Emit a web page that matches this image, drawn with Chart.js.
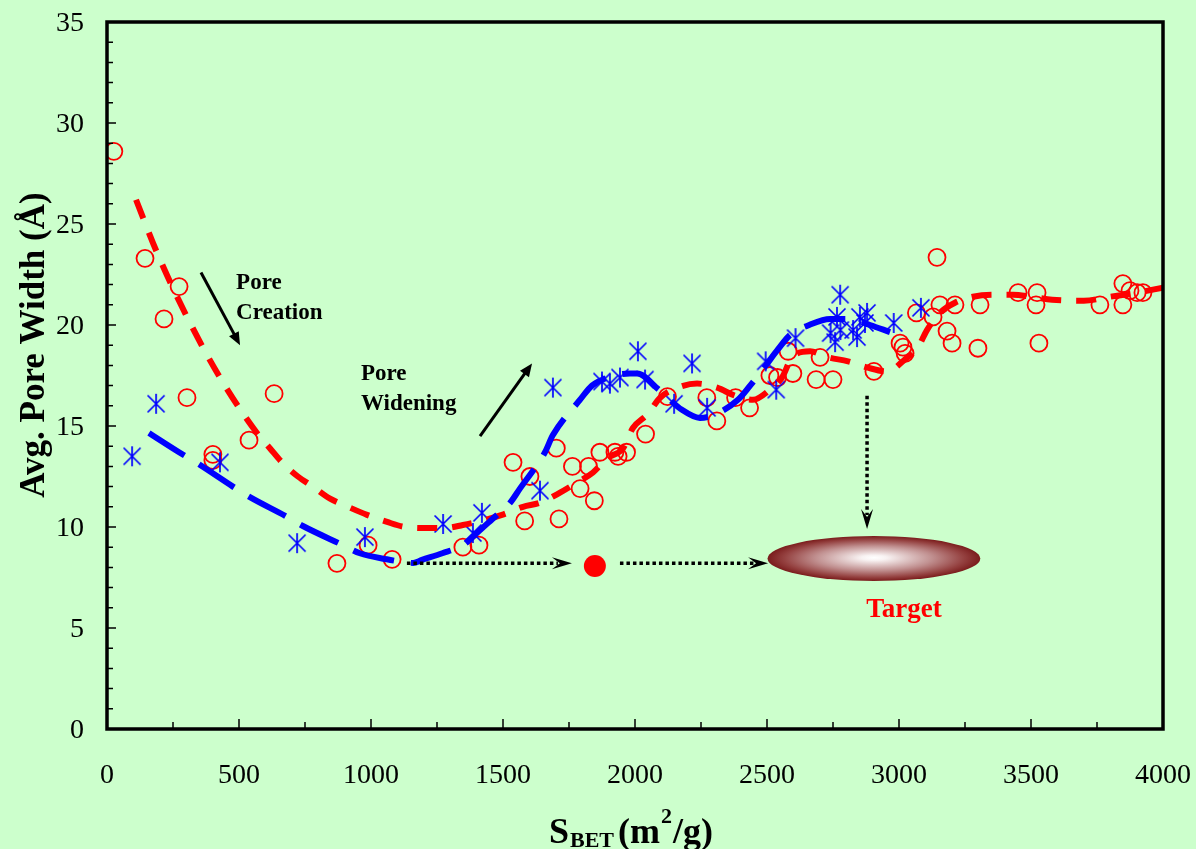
<!DOCTYPE html>
<html>
<head>
<meta charset="utf-8">
<script src="https://cdn.jsdelivr.net/npm/chart.js@4.4.1/dist/chart.umd.min.js"></script>
<style>
html,body{margin:0;padding:0;background:#CCFFCC;}
#wrap{width:1196px;height:849px;position:relative;}
</style>
</head>
<body>
<div id="wrap"><canvas id="c" width="1196" height="849"></canvas></div>
<script>
// ---------- DATA ----------
const redCircleX = [26,144,273,216,303,633,401,401,538,871,989,1080,1348,1409,1538,1602,1582,1702,1712,1763,1824,1792,1846,1867,1924,1936,1968,2040,2123,2272,2310,2381,2434,2511,2540,2598,2580,2686,2750,2701,2905,3004,3015,3023,3066,3129,3155,3144,3182,3201,3212,3307,3299,3451,3523,3519,3530,3761,3848,3848,3875,3902,3924];
const redCircleY = [28.6,23.3,21.9,20.3,16.4,16.6,13.6,13.3,14.3,8.2,9.1,8.4,9.0,9.1,13.2,12.5,10.3,13.9,10.4,13.0,13.0,11.9,11.3,13.7,13.7,13.5,13.7,14.6,16.45,16.4,15.25,16.4,15.9,17.5,17.4,17.6,18.7,17.3,17.3,18.4,17.7,19.1,18.9,18.6,20.6,20.4,21.0,23.35,19.7,19.1,21.0,21.0,18.85,21.6,21.6,21.0,19.1,21.0,22.05,21.0,21.7,21.6,21.6];

const blueStarX = [95,186,428,720,977,1273,1420,1386,1640,1689,1875,1905,1943,2011,2038,2148,2216,2273,2495,2535,2608,2777,2765,2741,2758,2778,2826,2841,2852,2871,2879,2980,3083];
const blueStarY = [13.5,16.1,13.2,9.2,9.5,10.15,10.7,9.7,11.8,16.9,17.2,17.1,17.4,18.7,17.3,16.1,18.1,15.9,18.2,16.8,19.35,21.5,20.4,19.6,19.15,19.75,19.75,19.4,20.4,20.1,20.6,20.1,20.85];

const redCurveX = [110,189,303,428,568,617,663,723,780,845,913,985,1061,1129,1212,1280,1348,1432,1496,1576,1640,1716,1780,1841,1894,1955,1992,2049,2095,2163,2235,2311,2379,2447,2511,2557,2595,2663,2731,2807,2879,2955,3023,3072,3106,3155,3212,3280,3356,3432,3500,3580,3700,3800,3900,4000];
const redCurveY = [26.2,23.6,20.4,17.4,14.65,13.9,13.2,12.5,12.0,11.4,11.0,10.6,10.25,10.0,9.95,9.95,10.1,10.35,10.6,11.0,11.2,11.7,12.2,12.7,13.4,13.9,14.9,15.6,16.4,16.9,17.1,16.9,16.5,16.3,16.8,17.4,18.4,18.7,18.4,18.2,17.9,17.7,18.3,18.9,19.75,20.6,21.1,21.4,21.5,21.5,21.4,21.25,21.2,21.4,21.6,21.85];

const blueCurveX = [159,273,337,477,538,682,742,894,958,1060,1121,1160,1193,1270,1348,1401,1460,1527,1564,1659,1689,1792,1837,1910,1981,2008,2090,2178,2246,2300,2390,2436,2490,2542,2587,2660,2739,2814,2890,2966];
const blueCurveY = [14.65,13.7,13.2,12.0,11.5,10.5,10.05,9.1,8.7,8.4,8.27,8.22,8.37,8.7,9.1,9.7,10.4,11.2,11.9,13.7,14.55,16.3,17.0,17.45,17.6,17.6,16.8,15.8,15.4,15.55,16.3,17.0,17.9,18.8,19.5,20.0,20.3,20.3,20.0,19.65];

const targetDotX = [1848];
const targetDotY = [8.07];

const xTickStep = 500, yTickStep = 5;
const xMin = 0, xMax = 4000, yMin = 0, yMax = 35;

// ---------- helpers ----------
const BG = '#CCFFCC';
const SERIF = '"Liberation Serif", "Times New Roman", serif';
const pts = (xs, ys) => xs.map((x, i) => ({x, y: ys[i]}));

function makeStar() {
  const c = document.createElement('canvas');
  c.width = 22; c.height = 22;
  const g = c.getContext('2d');
  g.strokeStyle = '#0000FF';
  g.lineWidth = 1.7;
  g.beginPath();
  g.moveTo(11, 1); g.lineTo(11, 21);
  g.moveTo(2.5, 2.5); g.lineTo(19.5, 19.5);
  g.moveTo(19.5, 2.5); g.lineTo(2.5, 19.5);
  g.stroke();
  return c;
}

function arrowHeadFilled(ctx, x1, y1, x2, y2, len, half) {
  const a = Math.atan2(y2 - y1, x2 - x1);
  ctx.beginPath();
  ctx.moveTo(x2, y2);
  ctx.lineTo(x2 - len * Math.cos(a) + half * Math.sin(a), y2 - len * Math.sin(a) - half * Math.cos(a));
  ctx.lineTo(x2 - len * Math.cos(a) - half * Math.sin(a), y2 - len * Math.sin(a) + half * Math.cos(a));
  ctx.closePath();
  ctx.fill();
}
function stealthHead(ctx, x1, y1, x2, y2, len, half) {
  const a = Math.atan2(y2 - y1, x2 - x1);
  const c = Math.cos(a), s = Math.sin(a);
  ctx.beginPath();
  ctx.moveTo(x2, y2);
  ctx.lineTo(x2 - len * c + half * s, y2 - len * s - half * c);
  ctx.lineTo(x2 - 0.6 * len * c, y2 - 0.6 * len * s);
  ctx.lineTo(x2 - len * c - half * s, y2 - len * s + half * c);
  ctx.closePath();
  ctx.fill();
}

const deco = {
  id: 'deco',
  beforeDraw(chart) {
    const {ctx, width, height} = chart;
    ctx.save();
    ctx.fillStyle = BG;
    ctx.fillRect(0, 0, width, height);
    ctx.restore();
  },
  afterDatasetsDraw(chart) {
    const {ctx} = chart;
    const xs = chart.scales.x, ys = chart.scales.y;
    const X = v => xs.getPixelForValue(v), Y = v => ys.getPixelForValue(v);
    ctx.save();

    // Target ellipse
    const cx = X(2905), cy = Y(8.44);
    const rx = X(2905 + 403) - cx, ry = Y(8.44 - 1.11) - cy;
    ctx.save();
    ctx.translate(cx, cy);
    ctx.scale(1, ry / rx);
    const grd = ctx.createRadialGradient(0, -4, 0, 0, 0, rx);
    grd.addColorStop(0, '#ffffff');
    grd.addColorStop(0.12, '#f8f2f2');
    grd.addColorStop(0.55, '#c08f8f');
    grd.addColorStop(0.85, '#94403f');
    grd.addColorStop(1, '#7a1c1c');
    ctx.fillStyle = grd;
    ctx.beginPath();
    ctx.arc(0, 0, rx, 0, Math.PI * 2);
    ctx.fill();
    ctx.restore();

    // dotted arrows
    ctx.strokeStyle = '#000'; ctx.fillStyle = '#000';
    ctx.lineWidth = 3.5;
    const dotted = (x1, y1, x2, y2) => {
      const a = Math.atan2(y2 - y1, x2 - x1);
      ctx.setLineDash([3.5, 3]);
      ctx.beginPath();
      ctx.moveTo(x1, y1);
      ctx.lineTo(x2 - 14 * Math.cos(a), y2 - 14 * Math.sin(a));
      ctx.stroke();
      ctx.setLineDash([]);
      stealthHead(ctx, x1, y1, x2, y2, 20, 6);
    };
    dotted(X(1136), Y(8.2), X(1761), Y(8.2));
    dotted(X(1943), Y(8.2), X(2504), Y(8.2));
    dotted(X(2879), Y(16.5), X(2879), Y(9.9));

    // solid black arrows
    ctx.setLineDash([]);
    ctx.lineWidth = 3;
    const solid = (x1, y1, x2, y2) => {
      const a = Math.atan2(y2 - y1, x2 - x1);
      ctx.beginPath();
      ctx.moveTo(x1, y1);
      ctx.lineTo(x2 - 8 * Math.cos(a), y2 - 8 * Math.sin(a));
      ctx.stroke();
      arrowHeadFilled(ctx, x1, y1, x2, y2, 13, 5.5);
    };
    solid(X(356), Y(22.6), X(504), Y(19.0));
    solid(X(1413), Y(14.5), X(1610), Y(18.1));

    // annotation texts
    ctx.font = 'bold 23px ' + SERIF;
    ctx.textAlign = 'left';
    ctx.textBaseline = 'alphabetic';
    ctx.fillStyle = '#000';
    ctx.fillText('Pore', X(489), Y(21.8));
    ctx.fillText('Creation', X(489), Y(20.3));
    ctx.fillText('Pore', X(962), Y(17.3));
    ctx.fillText('Widening', X(962), Y(15.8));

    ctx.font = 'bold 27px ' + SERIF;
    ctx.textAlign = 'center';
    ctx.fillStyle = '#FF0000';
    ctx.fillText('Target', X(3019), Y(5.55));
    ctx.restore();
  },
  afterDraw(chart) {
    const {ctx, chartArea: ca} = chart;
    const xs = chart.scales.x, ys = chart.scales.y;
    ctx.save();
    // tick labels (from the scales' own ticks)
    ctx.fillStyle = '#000';
    ctx.font = '28px ' + SERIF;
    ctx.textAlign = 'right';
    ctx.textBaseline = 'middle';
    ys.ticks.forEach(t => ctx.fillText(String(t.value), ca.left - 23, ys.getPixelForValue(t.value) + 2));
    ctx.textAlign = 'center';
    xs.ticks.forEach(t => ctx.fillText(String(t.value), xs.getPixelForValue(t.value), ca.bottom + 47));

    // inward ticks
    ctx.strokeStyle = '#000';
    ctx.lineWidth = 1.5;
    ctx.beginPath();
    for (let v = yMin + 1; v < yMax; v += 1) {
      const p = ys.getPixelForValue(v);
      const len = (v % yTickStep === 0) ? 9 : 6;
      ctx.moveTo(ca.left, p); ctx.lineTo(ca.left + len, p);
    }
    for (let v = xMin + 250; v < xMax; v += 250) {
      const p = xs.getPixelForValue(v);
      const len = (v % xTickStep === 0) ? 10 : 7;
      ctx.moveTo(p, ca.bottom); ctx.lineTo(p, ca.bottom - len);
    }
    ctx.stroke();
    // frame
    ctx.lineWidth = 3.5;
    ctx.strokeRect(ca.left, ca.top, ca.right - ca.left, ca.bottom - ca.top);

    // Y title
    ctx.save();
    ctx.translate(44, 345);
    ctx.rotate(-Math.PI / 2);
    ctx.font = 'bold 35px ' + SERIF;
    ctx.textAlign = 'center';
    ctx.textBaseline = 'alphabetic';
    ctx.fillText('Avg. Pore Width (Å)', 0, 0);
    ctx.restore();

    // X title with sub/superscript
    const big = 'bold 36px ' + SERIF, small = 'bold 22px ' + SERIF;
    const parts = [
      {t: 'S', f: big, dy: 0, gap: 1},
      {t: 'BET', f: small, dy: 4, gap: 4},
      {t: '(m', f: big, dy: 0, gap: 1},
      {t: '2', f: small, dy: -20, gap: 1},
      {t: '/g)', f: big, dy: 0, gap: 0}
    ];
    let total = 0;
    parts.forEach(p => { ctx.font = p.f; p.w = ctx.measureText(p.t).width; total += p.w + p.gap; });
    let x = 631 - total / 2;
    const base = 843;
    ctx.textAlign = 'left';
    ctx.textBaseline = 'alphabetic';
    parts.forEach(p => { ctx.font = p.f; ctx.fillText(p.t, x, base + p.dy); x += p.w + p.gap; });
    ctx.restore();
  }
};

const starImg = makeStar();

new Chart(document.getElementById('c'), {
  type: 'scatter',
  data: {
    datasets: [
      {
        label: 'target',
        data: pts(targetDotX, targetDotY),
        pointRadius: 11, pointBackgroundColor: '#FF0000', pointBorderWidth: 0,
        order: 0
      },
      {
        label: 'blue fit',
        data: pts(blueCurveX, blueCurveY),
        showLine: true, pointRadius: 0, borderColor: '#0000FF', borderWidth: 6,
        borderDash: [42, 17], borderCapStyle: 'butt', cubicInterpolationMode: 'monotone', fill: false,
        order: 1
      },
      {
        label: 'red fit',
        data: pts(redCurveX, redCurveY),
        showLine: true, pointRadius: 0, borderColor: '#FF0000', borderWidth: 6,
        borderDash: [20, 15], borderCapStyle: 'butt', cubicInterpolationMode: 'monotone', fill: false,
        order: 2
      },
      {
        label: 'blue data',
        data: pts(blueStarX, blueStarY),
        pointStyle: starImg, pointRadius: 10,
        order: 3
      },
      {
        label: 'red data',
        data: pts(redCircleX, redCircleY),
        pointStyle: 'circle', pointRadius: 8.5, pointBorderWidth: 1.8,
        pointBorderColor: '#FF0000', pointBackgroundColor: 'rgba(0,0,0,0)',
        order: 4
      }
    ]
  },
  options: {
    responsive: false,
    animation: false,
    devicePixelRatio: 1,
    layout: {padding: {top: 22, right: 33, left: 0, bottom: 0}},
    plugins: {legend: {display: false}, title: {display: false}, tooltip: {enabled: false}},
    scales: {
      x: {
        type: 'linear', min: xMin, max: xMax,
        grid: {display: false, drawTicks: false, tickLength: 0}, border: {display: false},
        ticks: {display: false, stepSize: xTickStep},
        afterFit: s => { s.height = 120; }
      },
      y: {
        type: 'linear', min: yMin, max: yMax,
        grid: {display: false, drawTicks: false, tickLength: 0}, border: {display: false},
        ticks: {display: false, stepSize: yTickStep},
        afterFit: s => { s.width = 107; }
      }
    }
  },
  plugins: [deco]
});
</script>
</body>
</html>
